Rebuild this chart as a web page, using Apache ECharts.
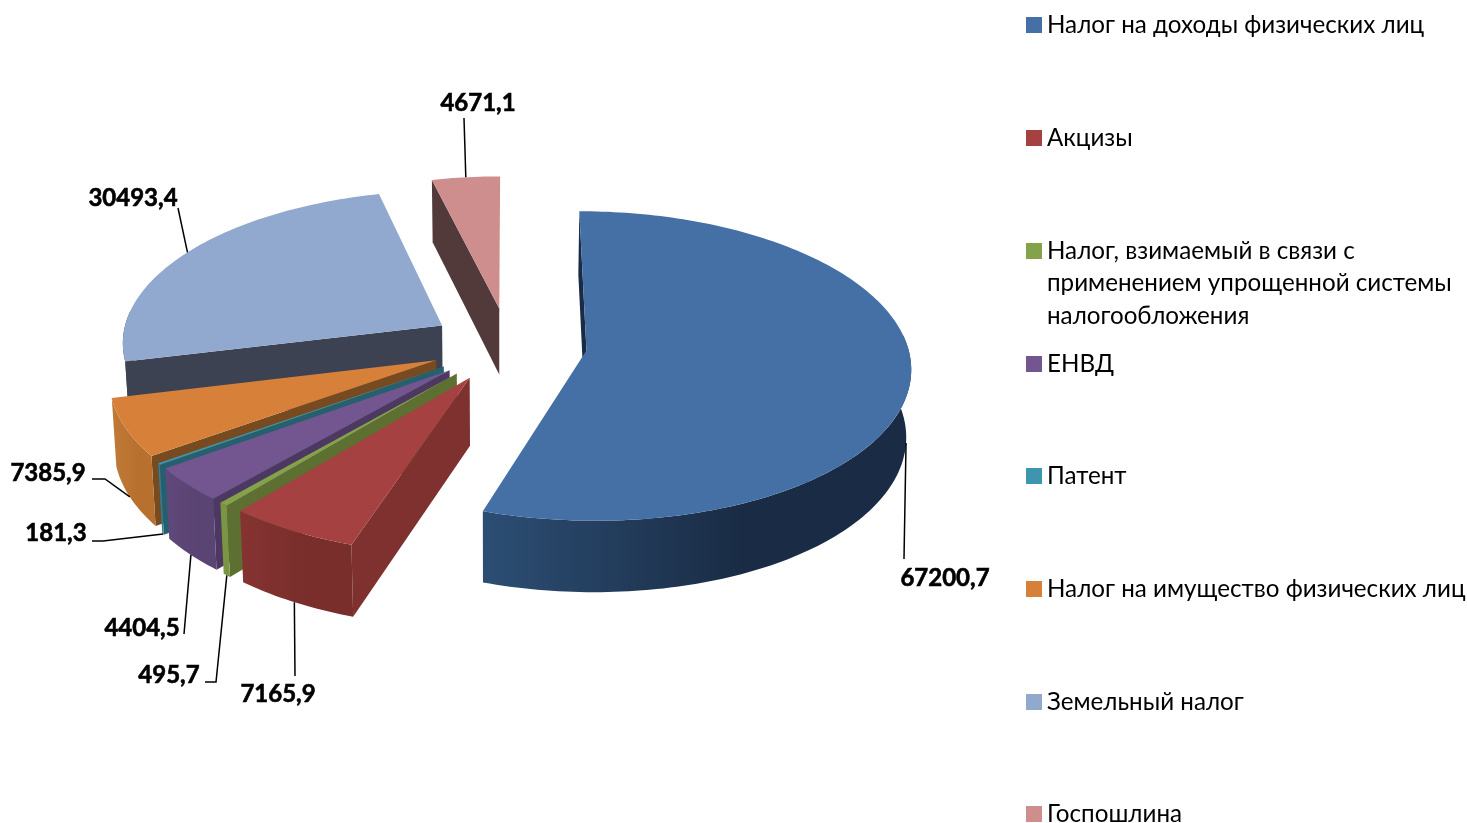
<!DOCTYPE html>
<html lang="ru">

<head>
    <meta charset="UTF-8">
    <title>Налоги</title>
    <script src="https://cdn.jsdelivr.net/npm/echarts@6/dist/echarts.min.js"></script>
    <style>
        html, body { margin: 0; padding: 0; background: #fff; }
        #main { position: absolute; left: 0; top: 0; width: 1467px; height: 823px; }
    </style>
</head>

<body>
    <div id="main"></div>

    <script>
        // data, in the clockwise order of the pie, starting from 12 o'clock
        var categories = ['Налог на доходы физических лиц', 'Акцизы', 'Налог, взимаемый в связи с\nприменением упрощенной системы\nналогообложения', 'ЕНВД', 'Патент', 'Налог на имущество физических лиц', 'Земельный налог', 'Госпошлина'];
        var taxValues = [67200.7, 7165.9, 495.7, 4404.5, 181.3, 7385.9, 30493.4, 4671.1];
        var valueLabels = ['67200,7', '7165,9', '495,7', '4404,5', '181,3', '7385,9', '30493,4', '4671,1'];

        // colours: top face, radial face, outer wall left - right
        var topColors = ['#4570a6', '#a54140', '#84a24a', '#735590', '#3e96ae', '#d7803a', '#92a9cf', '#ce8e8e'];
        var faceColors = ['#1a2c45', '#7f3130', '#5d6f31', '#4c3861', '#26606f', '#774a20', '#3c4252', '#533a3a'];
        var wallFrom = ['#2c4e74', '#853331', '#7a9642', '#60497b', '#2f7f94', '#c07b38', '#3c4252', '#533a3a'];
        var wallTo = ['#1a2c45', '#792e2c', '#7a9642', '#5a4473', '#2f7f94', '#b8702f', '#3c4252', '#533a3a'];

        // leader end points and text anchors, in page pixels
        var leaderPoints = [[[904, 559]], [[295, 676]], [[216, 682], [205, 682]], [[184, 634]], [[103, 541], [92, 541]], [[105, 479], [92, 479]], [[178, 208]], [[464, 118]]];
        var labelAnchors = [[945, 578.5], [278, 694.5], [169, 675.5], [142, 628.5], [56, 533.5], [48, 473.5], [133, 198.5], [478, 103.5]];

        // pie projection
        var cx = 508.5, cy = 344.5, radius = 321, tilt = 152, persp = 0.1, depth = 67, explode = 0.245;
        var vanishX = 495, shrink = 0.012, liftPersp = 0.06;
        var total = taxValues.reduce(function (a, b) { return a + b; }, 0);

        function project(u, v, lift) {
            var w = 1 - persp * v;
            var x = cx + radius * u / w;
            x = vanishX + (x - vanishX) * (1 - shrink * lift / depth);
            return [x, cy + tilt * v / w + lift / (1 - liftPersp * v)];
        }

        function sliceStart(idx) {
            var sum = 0;
            for (var i = 0; i < idx; i++) sum += taxValues[i];
            return sum / total * Math.PI * 2;
        }

        function renderSlice(params, api) {
            var idx = params.seriesIndex;
            var a0 = sliceStart(idx);
            var a1 = a0 + api.value(0) / total * Math.PI * 2;
            var mid = (a0 + a1) / 2;
            var ou = explode * Math.sin(mid);
            var ov = -explode * Math.cos(mid);

            function rim(a, lift) {
                return project(ou + Math.sin(a), ov - Math.cos(a), lift);
            }
            function arc(from, to, lift) {
                var pts = [];
                var n = Math.max(2, Math.ceil(Math.abs(to - from) / 0.02));
                for (var k = 0; k <= n; k++) pts.push(rim(from + (to - from) * k / n, lift));
                return pts;
            }
            var apexTop = project(ou, ov, 0);
            var apexBot = project(ou, ov, depth);
            var kids = [];

            function addFace(a, color) {
                kids.push({
                    type: 'polygon',
                    shape: { points: [apexTop, rim(a, 0), rim(a, depth), apexBot] },
                    style: { fill: color }
                });
            }
            // radial walls that look towards the viewer
            if (Math.sin(a1) > 0) addFace(a1, faceColors[idx]);
            if (Math.sin(a0) <= 0) addFace(a0, faceColors[idx]);

            // outer wall, only the front half of the rim shows
            var w0 = Math.max(a0, Math.PI / 2 - 0.1);
            var w1 = Math.min(a1, Math.PI * 1.5 + 0.1);
            if (w1 > w0) {
                kids.push({
                    type: 'polygon',
                    shape: { points: arc(w0, w1, 0).concat(arc(w1, w0, depth)) },
                    style: {
                        fill: new echarts.graphic.LinearGradient(0, 0, 1, 0, [
                            { offset: 0, color: wallFrom[idx] },
                            { offset: 0.6, color: wallTo[idx] },
                            { offset: 1, color: wallTo[idx] }
                        ])
                    }
                });
            }

            // top face
            kids.push({
                type: 'polygon',
                shape: { points: [apexTop].concat(arc(a0, a1, 0)) },
                style: { fill: topColors[idx] }
            });

            // leader and value label
            var leader = [rim(mid, Math.cos(mid) < 0.3 ? depth : 0)].concat(leaderPoints[idx]);
            kids.push({
                type: 'polyline',
                shape: { points: leader },
                style: { stroke: '#000', lineWidth: 1.5, fill: null }
            });
            kids.push({
                type: 'text',
                style: {
                    x: labelAnchors[idx][0],
                    y: labelAnchors[idx][1],
                    text: valueLabels[idx],
                    align: 'center',
                    verticalAlign: 'middle',
                    font: 'bold 24px Lato, "Open Sans", sans-serif',
                    fill: '#000',
                    stroke: '#000',
                    lineWidth: 0.6
                }
            });
            return { type: 'group', children: kids };
        }

        // one legend per entry: the rows are evenly spaced whatever their line count
        var legendRows = [25, 138, 251, 364, 476, 589, 702, 814];
        var lineH = 32.5;

        function buildLegend(name, i) {
            var lines = name.split('\n').length;
            return {
                data: [{ name: name, itemStyle: { color: topColors[i] } }],
                left: 1026,
                // padding the text with blank lines keeps the square on the first line
                top: legendRows[i] - lineH * (lines * 2 - 1) / 2,
                padding: 0,
                itemWidth: 16,
                itemHeight: 16,
                itemGap: 0,
                icon: 'rect',
                selectedMode: false,
                formatter: function (n) {
                    return new Array(lines).join('\n') + n;
                },
                textStyle: {
                    fontFamily: 'Lato, "Open Sans", sans-serif',
                    fontSize: 24.2,
                    lineHeight: lineH,
                    color: '#000'
                }
            };
        }

        var myCharts = echarts.init(document.getElementById('main'), null, { renderer: 'canvas' });
        myCharts.setOption({
            animation: false,
            backgroundColor: '#fff',
            tooltip: { show: false },
            legend: categories.map(buildLegend),
            series: categories.map(function (name, i) {
                return {
                    type: 'custom',
                    name: name,
                    coordinateSystem: 'none',
                    // back slices are painted first
                    z: i === 0 ? 20 : 12 - i,
                    itemStyle: { color: topColors[i] },
                    renderItem: renderSlice,
                    data: [[taxValues[i]]]
                };
            })
        });
    </script>
</body>

</html>
